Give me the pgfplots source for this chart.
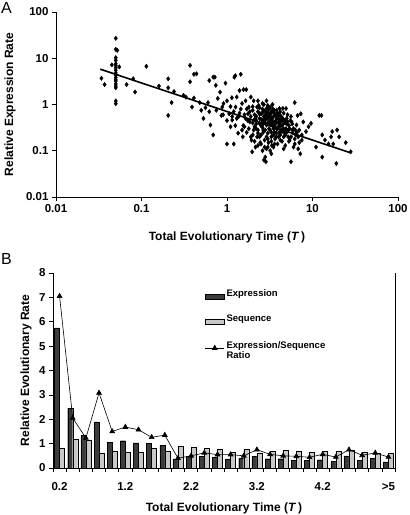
\documentclass[border=0pt]{standalone}
\usepackage{fontspec}
\setmainfont{Liberation Sans}
\usepackage{pgfplots}
\pgfplotsset{compat=1.18}
\definecolor{darkbar}{HTML}{3C3C3C}
\definecolor{lightbar}{HTML}{C8C8C8}
\pgfplotstableread{
x y
0.05 27
0.05 15.6
0.052 14.8
0.05 10.3
0.05 9.0
0.05 7.6
0.045 7.2
0.05 7.0
0.055 6.5
0.05 6.2
0.05 5.5
0.05 4.8
0.05 4.3
0.05 3.8
0.05 3.4
0.05 3.2
0.05 2.8
0.05 2.5
0.05 2.3
0.05 1.19
0.05 1.04
0.034 3.7
0.037 2.7
0.067 2.7
0.080 3.6
0.084 1.86
0.114 6.7
0.16 2.5
0.205 3.6
0.205 2.3
0.205 0.58
0.225 1.1
0.24 1.9
0.31 1.58
0.33 1.45
0.37 3.1
0.37 7.0
0.41 4.5
0.44 4.6
0.39 0.88
0.41 1.38
0.48 1.1
0.50 0.75
0.53 0.5
0.56 0.85
0.60 1.1
0.62 3.3
0.62 0.7
0.64 0.36
0.69 0.22
0.69 3.9
0.72 3.9
0.74 2.6
0.75 0.75
0.78 1.35
0.83 1.85
0.86 0.58
0.88 0.88
0.91 1.05
0.96 2.9
1.0 0.14
1.0 1.2
1.06 0.63
1.1 0.33
1.14 1.4
1.15 0.46
1.2 0.14
1.22 3.9
1.25 4.2
1.26 0.88
1.3 1.45
1.35 0.24
1.37 0.55
1.4 2.0
1.45 4.5
1.5 1.05
1.53 0.2
1.56 2.1
1.6 0.33
1.65 1.2
1.68 2.1
1.7 0.25
1.76 0.63
1.8 0.88
1.85 0.42
1.9 1.45
1.93 0.17
1.97 0.095
2.0 0.75
2.05 1.2
2.1 0.33
2.15 0.12
2.2 0.55
2.25 0.88
2.3 0.24
2.3 1.2
2.4 0.39
2.5 0.14
2.5 0.63
2.6 1.05
2.65 0.28
2.7 0.46
2.7 0.063
2.75 0.17
2.8 0.75
2.8 0.073
2.85 0.058
2.9 1.2
2.95 0.55
3.0 0.24
3.0 0.12
3.1 0.39
3.2 0.88
3.25 0.63
3.3 0.2
3.3 0.086
3.4 0.5
3.5 0.3
3.55 0.75
3.6 0.14
3.7 0.42
3.8 0.24
3.9 0.58
4.0 0.33
4.1 0.82
4.2 0.17
4.25 0.46
4.4 0.26
4.5 0.82
4.6 0.11
4.6 0.39
4.8 0.22
4.9 0.82
5.0 0.5
5.2 0.28
5.4 0.17
5.6 0.058
5.7 0.42
5.9 0.24
6.2 1.1
6.2 0.14
6.5 0.36
6.7 0.58
6.8 0.2
7.0 0.28
7.2 0.086
7.3 0.63
7.5 0.17
7.8 0.42
8.4 0.26
9.0 0.33
9.6 0.39
11 0.12
12 0.58
12.7 0.58
13 0.073
13 0.22
14 0.17
15.4 0.14
16.5 0.2
17 0.26
17.5 0.14
19 0.053
19.4 0.28
20.5 0.2
24.5 0.15
28 0.095
2.1 0.6
2.2 0.45
2.3 0.7
2.4 0.5
2.5 0.35
2.6 0.8
2.7 0.55
2.8 0.4
2.9 0.65
3.0 0.5
3.1 0.3
3.2 0.45
3.3 0.7
3.4 0.35
3.5 0.55
3.6 0.25
3.7 0.6
3.8 0.4
3.9 0.3
4.0 0.5
4.2 0.35
4.4 0.45
4.6 0.3
4.8 0.4
5.0 0.25
5.3 0.35
5.6 0.2
6.0 0.3
6.4 0.22
2.2 0.3
2.5 0.22
2.8 0.28
3.0 0.18
3.3 0.25
3.6 0.35
4.0 0.2
4.3 0.28
2.0 0.4
1.9 0.55
1.8 0.3
2.35 0.95
2.65 0.25
2.95 0.85
3.15 0.6
3.45 0.8
3.75 0.2
4.1 0.6
4.5 0.5
4.9 0.3
5.5 0.45
2.45 0.15
2.75 0.12
3.05 0.15
3.35 0.13
3.65 0.18
2.25 0.2
2.05 0.28
1.75 0.45
1.6 0.6
1.45 0.8
1.3 0.5
1.2 0.7
1.1 0.9
1.55 0.35
1.7 0.8
2.55 0.65
2.85 0.48
3.25 0.38
3.55 0.42
3.85 0.52
4.15 0.4
4.7 0.25
5.2 0.2
5.8 0.28
6.2 0.18
6.6 0.25
7.0 0.15
7.5 0.22
2.4 0.85
2.7 1.0
3.0 0.95
3.4 1.0
3.8 0.75
4.2 0.7
4.6 0.65
5.1 0.6
5.6 0.55
1.9 0.2
2.1 0.16
2.3 0.13
2.6 0.1
2.9 0.11
3.2 0.1
3.5 0.12
3.9 0.14
4.4 0.16
4.8 0.13
5.3 0.16
6.0 0.12
6.8 0.11
0.9 0.6
1.0 0.45
1.15 0.55
1.25 0.35
1.4 0.65
1.5 0.28
1.65 0.5
1.85 0.7
2.0 0.9
2.2 0.38
2.4 0.62
2.6 0.45
2.8 0.58
3.0 0.68
3.2 0.55
3.4 0.42
3.6 0.62
3.8 0.48
4.0 0.4
2.3 0.28
2.6 0.32
2.9 0.36
3.2 0.28
3.5 0.22
3.8 0.3
4.1 0.25
4.4 0.35
4.7 0.45
5.0 0.38
5.4 0.3
5.8 0.38
6.3 0.28
2.1 0.48
2.5 0.48
2.7 0.7
3.1 0.8
3.5 0.68
3.9 0.65
4.3 0.55
2.0 0.22
2.4 0.2
2.9 0.2
3.3 0.16
4.2 0.22
4.6 0.2
5.1 0.42
3.0 0.4
3.3 0.5
2.65 0.38
}\scatterdata
\pgfplotstableread{
i expr seq ratio
0 5.75 0.83 7.05
1 2.46 1.20 2.05
2 1.34 1.13 1.23
3 1.89 0.62 3.08
4 1.05 0.68 1.50
5 1.12 0.63 1.68
6 1.03 0.63 1.57
7 1.00 0.81 1.26
8 0.93 0.67 1.35
9 0.37 0.89 0.40
10 0.48 0.85 0.50
11 0.48 0.80 0.62
12 0.45 0.78 0.55
13 0.37 0.63 0.55
14 0.40 0.77 0.50
15 0.48 0.62 0.75
16 0.38 0.68 0.56
17 0.38 0.71 0.50
18 0.31 0.70 0.48
19 0.30 0.66 0.44
20 0.34 0.67 0.56
21 0.27 0.67 0.45
22 0.50 0.72 0.75
23 0.31 0.64 0.52
24 0.40 0.62 0.62
25 0.25 0.59 0.45
}\bardata
\begin{document}
\begin{tikzpicture}[x=1pt,y=1pt]
\useasboundingbox (0,0) rectangle (410,515);
\node[anchor=north west, font=\fontsize{16}{16}\selectfont, inner sep=0pt] at (1,513) {A};
\node[anchor=north west, font=\fontsize{16}{16}\selectfont, inner sep=0pt] at (1,262) {B};
\begin{axis}[at={(56pt,318pt)}, anchor=south west, scale only axis,
  width=342pt, height=185pt,
  /pgf/number format/assume math mode=true,
  xmode=log, ymode=log, xmin=0.01, xmax=100, ymin=0.01, ymax=100,
  axis x line*=bottom, axis y line*=left,
  axis line style={line width=0.6pt},
  xtick={0.01,0.1,1,10,100}, xticklabels={0.01,0.1,1,10,100},
  ytick={0.01,0.1,1,10,100}, yticklabels={0.01,0.1,1,10,100},
  xminorticks=false, yminorticks=false,
  tick align=outside, major tick length=4pt,
  tick style={black, line width=0.6pt},
  ticklabel style={font=\fontsize{11.5}{12}\selectfont\bfseries},
  xlabel={Total Evolutionary Time (\textit{T}\,)},
  ylabel={Relative Expression Rate},
  every axis x label/.style={at={(rel axis cs:0.5,0)}, yshift=-40pt, anchor=center, font=\fontsize{12}{13}\selectfont\bfseries},
  every axis y label/.style={at={(rel axis cs:0,0.5)}, xshift=-46pt, rotate=90, anchor=center, font=\fontsize{12}{13}\selectfont\bfseries},
  clip=false]
\addplot[only marks, mark=diamond*, mark size=2.2pt, black] table[x=x,y=y] {\scatterdata};
\addplot[black, line width=1.6pt] coordinates {(0.033,5.8) (28,0.09)};
\end{axis}
\begin{axis}[at={(53pt,47pt)}, anchor=south west, scale only axis,
  width=342pt, height=195pt,
  /pgf/number format/assume math mode=true,
  xmin=-0.5, xmax=25.5, ymin=0, ymax=8,
  axis x line*=bottom, axis y line*=box,
  axis line style={line width=0.6pt},
  ytick={0,1,...,8}, ytick pos=left,
  xtick={0,5,10,15,20,25}, xticklabels={0.2,1.2,2.2,3.2,4.2,>5},
  minor xtick={-0.5,0.5,...,25.5},
  tick align=outside, major tick length=4pt,
  major x tick style={draw=none},
  minor tick length=4pt,
  tick style={black, line width=0.6pt},
  xticklabel style={yshift=-7pt},
  ticklabel style={font=\fontsize{11.5}{12}\selectfont\bfseries},
  xlabel={Total Evolutionary Time (\textit{T}\,)},
  ylabel={Relative Evolutionary Rate},
  every axis x label/.style={at={(rel axis cs:0.5,0)}, yshift=-40pt, anchor=center, font=\fontsize{12}{13}\selectfont\bfseries},
  every axis y label/.style={at={(rel axis cs:0,0.5)}, xshift=-27pt, rotate=90, anchor=center, font=\fontsize{12}{13}\selectfont\bfseries},
  legend style={at={(rel axis cs:0.435,0.935)}, anchor=north west, draw=none, fill=none,
    font=\fontsize{9.5}{11}\selectfont\bfseries, row sep=13pt,
    nodes={anchor=base west}},
  legend cell align=left,
  clip=false]
\addplot[ybar, bar width=5pt, bar shift=-2.5pt, fill=darkbar, draw=black, line width=0.4pt,
  legend image code/.code={\draw[fill=darkbar, draw=black] (0pt,-2.5pt) rectangle (19pt,2.5pt);}]
  table[x=i,y=expr] {\bardata};
\addlegendentry{Expression}
\addplot[ybar, bar width=5pt, bar shift=2.5pt, fill=lightbar, draw=black, line width=0.4pt,
  legend image code/.code={\draw[fill=lightbar, draw=black] (0pt,-2.5pt) rectangle (19pt,2.5pt);}]
  table[x=i,y=seq] {\bardata};
\addlegendentry{Sequence}
\addplot[black, line width=0.6pt, mark=triangle*, mark size=2.8pt,
  legend image code/.code={\draw[black, line width=0.6pt] (0pt,0pt) -- (19pt,0pt);
    \fill[black] (9.5pt,0pt) +(90:2.8pt) -- +(210:2.8pt) -- +(330:2.8pt) -- cycle;}]
  table[x=i,y=ratio] {\bardata};
\addlegendentry{\begin{tabular}[t]{@{}l@{}}Expression/Sequence\\[-1pt]Ratio\end{tabular}}
\end{axis}
\end{tikzpicture}
\end{document}
